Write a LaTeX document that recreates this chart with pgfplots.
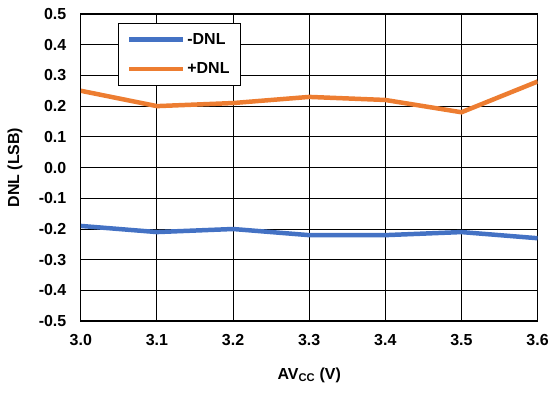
\documentclass[border=0pt]{standalone}
\usepackage{fontspec}
\setmainfont{Liberation Sans}
\usepackage{pgfplots}
\pgfplotsset{compat=1.18}
\usetikzlibrary{calc}
\definecolor{cblue}{HTML}{4472C4}
\definecolor{corange}{HTML}{ED7D31}
\begin{document}
\begin{tikzpicture}
\begin{axis}[
  name=ax,
  scale only axis,
  width=458pt, height=308pt,
  xmin=3.0, xmax=3.6, ymin=-0.5, ymax=0.5,
  xtick={3.0,3.1,3.2,3.3,3.4,3.5,3.6},
  ytick={-0.5,-0.4,-0.3,-0.2,-0.1,0,0.1,0.2,0.3,0.4,0.5},
  grid=major,
  grid style={black, line width=0.9pt},
  axis line style={black, line width=1.4pt},
  major tick length=0pt,
  xticklabel={\pgfmathprintnumber[fixed,fixed zerofill,precision=1,assume math mode=true]{\tick}},
  yticklabel={\pgfmathprintnumber[fixed,fixed zerofill,precision=1,assume math mode=true]{\tick}},
  tick label style={font=\fontsize{16}{18}\selectfont\bfseries},
  x tick label style={yshift=-10pt},
  y tick label style={xshift=-11pt},
  xlabel={AV\textsubscript{CC} (V)},
  ylabel={DNL (LSB)},
  label style={font=\fontsize{16}{18}\selectfont\bfseries},
  xlabel style={at={(axis description cs:0.5,-0.175)}, anchor=center},
  ylabel style={at={(axis description cs:-0.144,0.5)}, anchor=center},
  legend style={at={(0.081,0.971)}, anchor=north west, draw=black, line width=0.6pt,
    font=\fontsize{16}{18}\selectfont\bfseries, row sep=13pt, inner xsep=9pt, inner ysep=8pt},
  legend cell align=left,
  legend image code/.code={\draw[#1, line width=4.5pt] (0pt,0pt) -- (54pt,0pt);},
]
\addplot[cblue, line width=4.5pt] coordinates {
 (3.0,-0.19) (3.1,-0.21) (3.2,-0.20) (3.3,-0.22) (3.4,-0.22) (3.5,-0.21) (3.6,-0.23)};
\addlegendentry{-DNL}
\addplot[corange, line width=4.5pt] coordinates {
 (3.0,0.25) (3.1,0.20) (3.2,0.21) (3.3,0.23) (3.4,0.22) (3.5,0.18) (3.6,0.28)};
\addlegendentry{+DNL}
\end{axis}
\path ($(ax.south west)+(-81pt,-72pt)$) rectangle ($(ax.north east)+(13pt,14pt)$);
\end{tikzpicture}
\end{document}
